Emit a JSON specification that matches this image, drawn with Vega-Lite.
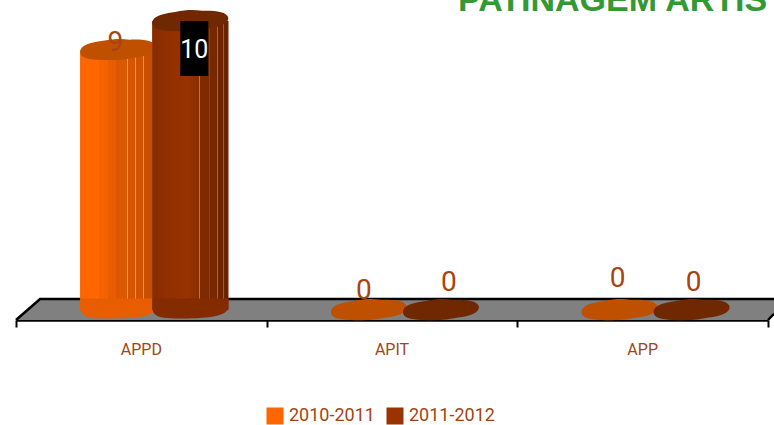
{
"$schema":"https://vega.github.io/schema/vega-lite/v6.json",
"width":752,"height":320,
"autosize":{"type":"none"},
"padding":{"left":16,"top":0,"right":6,"bottom":105},
"background":"white",
"title":{"text":"PATINAGEM ARTISTICA","anchor":"start","dx":447,"dy":45,"offset":0,"baseline":"alphabetic","font":"Liberation Sans","fontWeight":"bold","fontSize":34,"color":"#339933"},
"config":{"view":{"stroke":null}},
"datasets":{
"bars":[
{"cat":"APPD","series":"2010-2011","value":9},
{"cat":"APPD","series":"2011-2012","value":10},
{"cat":"APIT","series":"2010-2011","value":0},
{"cat":"APIT","series":"2011-2012","value":0},
{"cat":"APP","series":"2010-2011","value":0},
{"cat":"APP","series":"2011-2012","value":0}],
"floor":[{"fx":0,"top":-0.346,"bottom":-0.346},{"fx":0.096,"top":0.38,"bottom":-0.346},{"fx":3,"top":0.38,"bottom":-0.346},{"fx":3.024,"top":0.38,"bottom":-0.13}],
"edge":[{"fx":0,"fy":-0.346,"part":"a"},{"fx":0.096,"fy":0.38,"part":"a"},{"fx":3.024,"fy":0.38,"part":"a"},{"fx":3,"fy":-0.346,"part":"b"},{"fx":3.024,"fy":-0.13,"part":"b"}]
},
"resolve":{"scale":{"x":"independent"}},
"layer":[
{"layer":[
{"data":{"name":"floor"},"mark":{"type":"area","fill":"#808080","clip":false},
"encoding":{"x":{"field":"fx","type":"quantitative","scale":{"domain":[0,3],"nice":false,"zero":false},
"axis":{"orient":"bottom","values":[0,1,2,3],"labels":false,"title":null,"grid":false,"domainColor":"#000000","domainWidth":2.5,"tickColor":"#000000","tickWidth":2,"tickSize":7}},
"y":{"field":"top","type":"quantitative","scale":{"domain":[-0.346,10.727],"nice":false,"zero":false},"axis":null},
"y2":{"field":"bottom"}}},
{"data":{"name":"edge"},"mark":{"type":"line","stroke":"#000000","strokeWidth":2.5,"clip":false},
"encoding":{"x":{"field":"fx","type":"quantitative"},"y":{"field":"fy","type":"quantitative"},"detail":{"field":"part"}}}
]},
{"data":{"name":"bars"},
"encoding":{
"x":{"field":"cat","type":"nominal","sort":["APPD","APIT","APP"],"scale":{"paddingInner":0,"paddingOuter":0},
"axis":{"orient":"bottom","title":null,"ticks":false,"domain":false,"labelAngle":0,"labelPadding":21,"labelFont":"Roboto","labelFontSize":16,"labelColor":"#A34412"}},
"xOffset":{"field":"series","type":"nominal","scale":{"type":"point","padding":0,"range":[102.3,174.3]}},
"y":{"field":"value","type":"quantitative"}
},
"layer":[
{"mark":{"type":"bar","width":76},
"encoding":{"color":{"field":"series","type":"nominal","scale":{"domain":["2010-2011","2011-2012"],"range":["#FF6600","#993300"]},
"legend":{"orient":"none","legendX":250,"legendY":407,"direction":"horizontal","title":null,"symbolType":"square","symbolSize":289,"symbolStrokeWidth":0,"labelFont":"Roboto","labelFontSize":18,"labelColor":"#A34412","labelOffset":5,"columnPadding":11}}}},
{"transform":[{"filter":"datum.series==='2010-2011' && datum.value>0"}],"layer":[
{"mark":{"type":"bar","width":76,"fill":{"gradient":"linear","x1":0,"x2":1,"y1":0,"y2":0,"stops":[
{"offset":0,"color":"#F26100"},{"offset":0.03,"color":"#FF6600"},{"offset":0.24,"color":"#FF6600"},{"offset":0.241,"color":"#F56200"},{"offset":0.36,"color":"#F56200"},{"offset":0.361,"color":"#E85D00"},{"offset":0.47,"color":"#E85D00"},{"offset":0.471,"color":"#DB5800"},{"offset":0.62,"color":"#DB5800"},{"offset":0.621,"color":"#EE9A66"},{"offset":0.632,"color":"#EE9A66"},{"offset":0.633,"color":"#D55500"},{"offset":0.72,"color":"#D55500"},{"offset":0.721,"color":"#E49766"},{"offset":0.732,"color":"#E49766"},{"offset":0.733,"color":"#CF5300"},{"offset":0.83,"color":"#CF5300"},{"offset":0.831,"color":"#DE9066"},{"offset":0.842,"color":"#DE9066"},{"offset":0.843,"color":"#C95000"},{"offset":1,"color":"#C24E00"}]}}},
{"mark":{"type":"point","filled":true,"opacity":1,"size":5776,"shape":"M-1,-0.05 C-1,0.12 -0.85,0.21 -0.6,0.21 C-0.2,0.24 0.4,0.22 0.7,0.15 C0.95,0.09 1,0 1,-0.1 L1,-0.3 L-1,-0.3Z","fill":"#E85D00"},
"encoding":{"y":{"datum":0}}},
{"mark":{"type":"point","filled":true,"opacity":1,"size":5776,"fill":"#BF5000","shape":"M-1,0.06 C-1,-0.12 -0.8,-0.18 -0.4,-0.24 C-0.1,-0.3 0.1,-0.3 0.3,-0.27 C0.6,-0.28 0.98,-0.26 1,-0.08 C1,0.08 0.75,0.16 0.45,0.2 C0.2,0.26 -0.1,0.28 -0.5,0.26 C-0.8,0.25 -1,0.2 -1,0.06Z"}}
]},
{"transform":[{"filter":"datum.series==='2011-2012' && datum.value>0"}],"layer":[
{"mark":{"type":"bar","width":76,"fill":{"gradient":"linear","x1":0,"x2":1,"y1":0,"y2":0,"stops":[
{"offset":0,"color":"#852C00"},{"offset":0.2,"color":"#922F00"},{"offset":0.45,"color":"#973200"},{"offset":0.62,"color":"#8A2E00"},{"offset":0.621,"color":"#B5754F"},{"offset":0.632,"color":"#B5754F"},{"offset":0.633,"color":"#7F2A00"},{"offset":0.74,"color":"#7F2A00"},{"offset":0.741,"color":"#A56A4C"},{"offset":0.752,"color":"#A56A4C"},{"offset":0.753,"color":"#782800"},{"offset":0.85,"color":"#782800"},{"offset":0.851,"color":"#9E644C"},{"offset":0.862,"color":"#9E644C"},{"offset":0.863,"color":"#702500"},{"offset":0.93,"color":"#702500"},{"offset":0.931,"color":"#955C46"},{"offset":0.942,"color":"#955C46"},{"offset":0.943,"color":"#692300"},{"offset":1,"color":"#662200"}]}}},
{"mark":{"type":"point","filled":true,"opacity":1,"size":5776,"shape":"M-1,-0.05 C-1,0.12 -0.85,0.21 -0.6,0.21 C-0.2,0.24 0.4,0.22 0.7,0.15 C0.95,0.09 1,0 1,-0.1 L1,-0.3 L-1,-0.3Z","fill":"#842B00"},
"encoding":{"y":{"datum":0}}},
{"mark":{"type":"point","filled":true,"opacity":1,"size":5776,"fill":"#702800","shape":"M-1,0.06 C-1,-0.12 -0.8,-0.18 -0.4,-0.24 C-0.1,-0.3 0.1,-0.3 0.3,-0.27 C0.6,-0.28 0.98,-0.26 1,-0.08 C1,0.08 0.75,0.16 0.45,0.2 C0.2,0.26 -0.1,0.28 -0.5,0.26 C-0.8,0.25 -1,0.2 -1,0.06Z"}}
]},
{"transform":[{"filter":"datum.series==='2010-2011' && datum.value==0"}],
"mark":{"type":"point","filled":true,"opacity":1,"size":5776,"fill":"#BF5000","shape":"M-1,0.06 C-1,-0.12 -0.8,-0.18 -0.4,-0.24 C-0.1,-0.3 0.1,-0.3 0.3,-0.27 C0.6,-0.28 0.98,-0.26 1,-0.08 C1,0.08 0.75,0.16 0.45,0.2 C0.2,0.26 -0.1,0.28 -0.5,0.26 C-0.8,0.25 -1,0.2 -1,0.06Z"}},
{"transform":[{"filter":"datum.series==='2011-2012' && datum.value==0"}],
"mark":{"type":"point","filled":true,"opacity":1,"size":5776,"fill":"#702800","shape":"M-1,0.06 C-1,-0.12 -0.8,-0.18 -0.4,-0.24 C-0.1,-0.3 0.1,-0.3 0.3,-0.27 C0.6,-0.28 0.98,-0.26 1,-0.08 C1,0.08 0.75,0.16 0.45,0.2 C0.2,0.26 -0.1,0.28 -0.5,0.26 C-0.8,0.25 -1,0.2 -1,0.06Z"}},
{"transform":[{"filter":"datum.value==10"}],"mark":{"type":"point","filled":true,"opacity":1,"size":5776,"fill":"#000000","shape":"M-0.263,0 L0.474,0 L0.474,1.447 L-0.263,1.447Z"}},
{"transform":[{"filter":"datum.value==10"}],"mark":{"type":"text","font":"Roboto","fontSize":25,"fill":"#FFFFFF","dx":4,"dy":29},"encoding":{"text":{"field":"value","type":"quantitative"}}},
{"transform":[{"filter":"datum.value==9"}],"mark":{"type":"text","font":"Roboto","fontSize":28,"fill":"#A84312","dx":-3,"dy":-7},"encoding":{"text":{"field":"value","type":"quantitative"}}},
{"transform":[{"filter":"datum.cat==='APIT' && datum.series==='2010-2011'"}],"mark":{"type":"text","font":"Roboto","fontSize":28,"fill":"#A84312","dx":-5,"dy":-19},"encoding":{"text":{"field":"value","type":"quantitative"}}},
{"transform":[{"filter":"datum.cat==='APIT' && datum.series==='2011-2012'"}],"mark":{"type":"text","font":"Roboto","fontSize":28,"fill":"#A84312","dx":8,"dy":-27},"encoding":{"text":{"field":"value","type":"quantitative"}}},
{"transform":[{"filter":"datum.cat==='APP' && datum.series==='2010-2011'"}],"mark":{"type":"text","font":"Roboto","fontSize":28,"fill":"#A84312","dx":-2,"dy":-31},"encoding":{"text":{"field":"value","type":"quantitative"}}},
{"transform":[{"filter":"datum.cat==='APP' && datum.series==='2011-2012'"}],"mark":{"type":"text","font":"Roboto","fontSize":28,"fill":"#A84312","dx":2,"dy":-27},"encoding":{"text":{"field":"value","type":"quantitative"}}}
]}
]
}
